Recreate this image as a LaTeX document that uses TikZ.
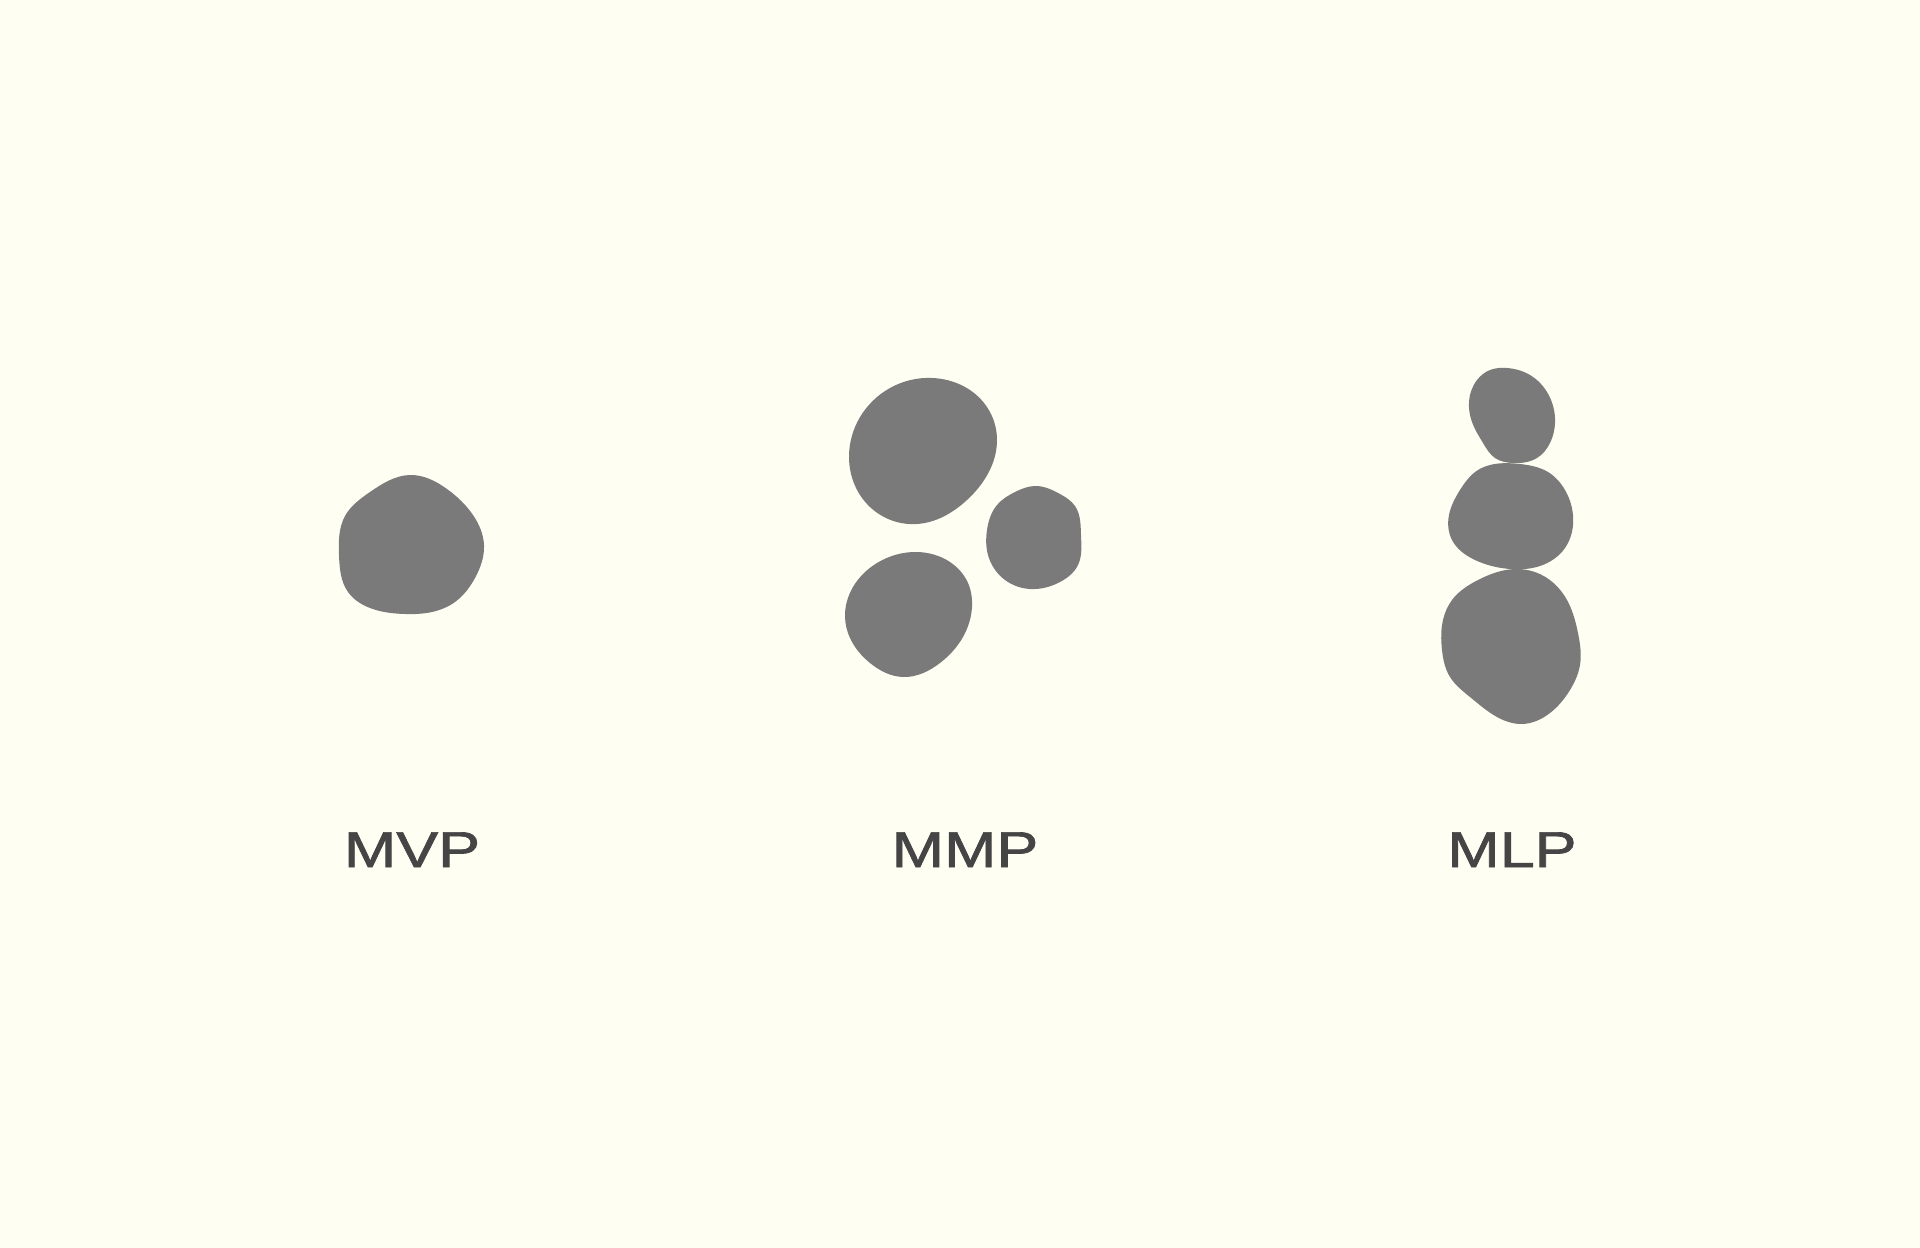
\documentclass[tikz,border=0pt]{standalone}
\usepackage{fontspec}
\usepackage{graphicx}
\usetikzlibrary{hobby}
\setmainfont{Liberation Sans}[FakeBold=1.3]
\definecolor{bgColor}{HTML}{FEFEF2}
\definecolor{blobColor}{HTML}{7A7A7A}
\definecolor{textColor}{HTML}{454545}

\begin{document}
\begin{tikzpicture}[x=0.01cm,y=-0.01cm,
  blob/.style={fill=blobColor,draw=none},
  tag/.style={anchor=base,text=textColor,inner sep=0pt,
    font=\fontsize{14.3}{16}\selectfont}]
\fill[bgColor] (0,0) rectangle (1920,1248);
\useasboundingbox (0,0) rectangle (1920,1248);
% MVP
\path[blob] plot[closed hobby] coordinates {
  (410,475) (447,489) (473,515) (484,545) (475,578) (455,602)
  (432,612) (405,614) (370,608) (348,592) (339,555) (345,516)
  (370,492)};
% MMP
\path[blob] plot[closed hobby] coordinates {
  (933,378) (987,407) (997,440) (967,500) (917,524)
  (870,507) (849,457) (890,388)};
\path[blob] plot[closed hobby] coordinates {
  (1035,486) (1060,494) (1075,506) (1081,535) (1078,565)
  (1060,582) (1030,589) (1005,580) (988,555) (987,530)
  (997,505) (1015,492)};
\path[blob] plot[closed hobby] coordinates {
  (917,552) (950,562) (968,583) (972,607) (963,637) (940,663)
  (903,677) (870,663) (850,638) (845,617) (853,587) (877,563)};
% MLP
\path[blob] plot[closed hobby] coordinates {
  (1507,368) (1530,375) (1547,392) (1555,418) (1550,443)
  (1537,458) (1513,463) (1495,458) (1483,443) (1472,422)
  (1469,402) (1477,380) (1490,370)};
\path[blob] plot[closed hobby] coordinates {
  (1490,465) (1520,464) (1548,472) (1565,490) (1573,515)
  (1565,548) (1540,566) (1510,569) (1475,560) (1452,540)
  (1449,515) (1460,490) (1478,470)};
\path[blob] plot[closed hobby] coordinates {
  (1518,569) (1547,578) (1567,600) (1578,633) (1580,665)
  (1570,690) (1550,713) (1522,724) (1497,717) (1470,697)
  (1450,677) (1442,650) (1443,620) (1452,600) (1478,580)};
% labels
\node[tag] (mvp) at (412,867) {\scalebox{1.25}[1]{MVP}};
\node[tag] (mmp) at (965,867) {\scalebox{1.25}[1]{MMP}};
\node[tag] (mlp) at (1512,867) {\scalebox{1.25}[1]{MLP}};
\end{tikzpicture}
\end{document}
